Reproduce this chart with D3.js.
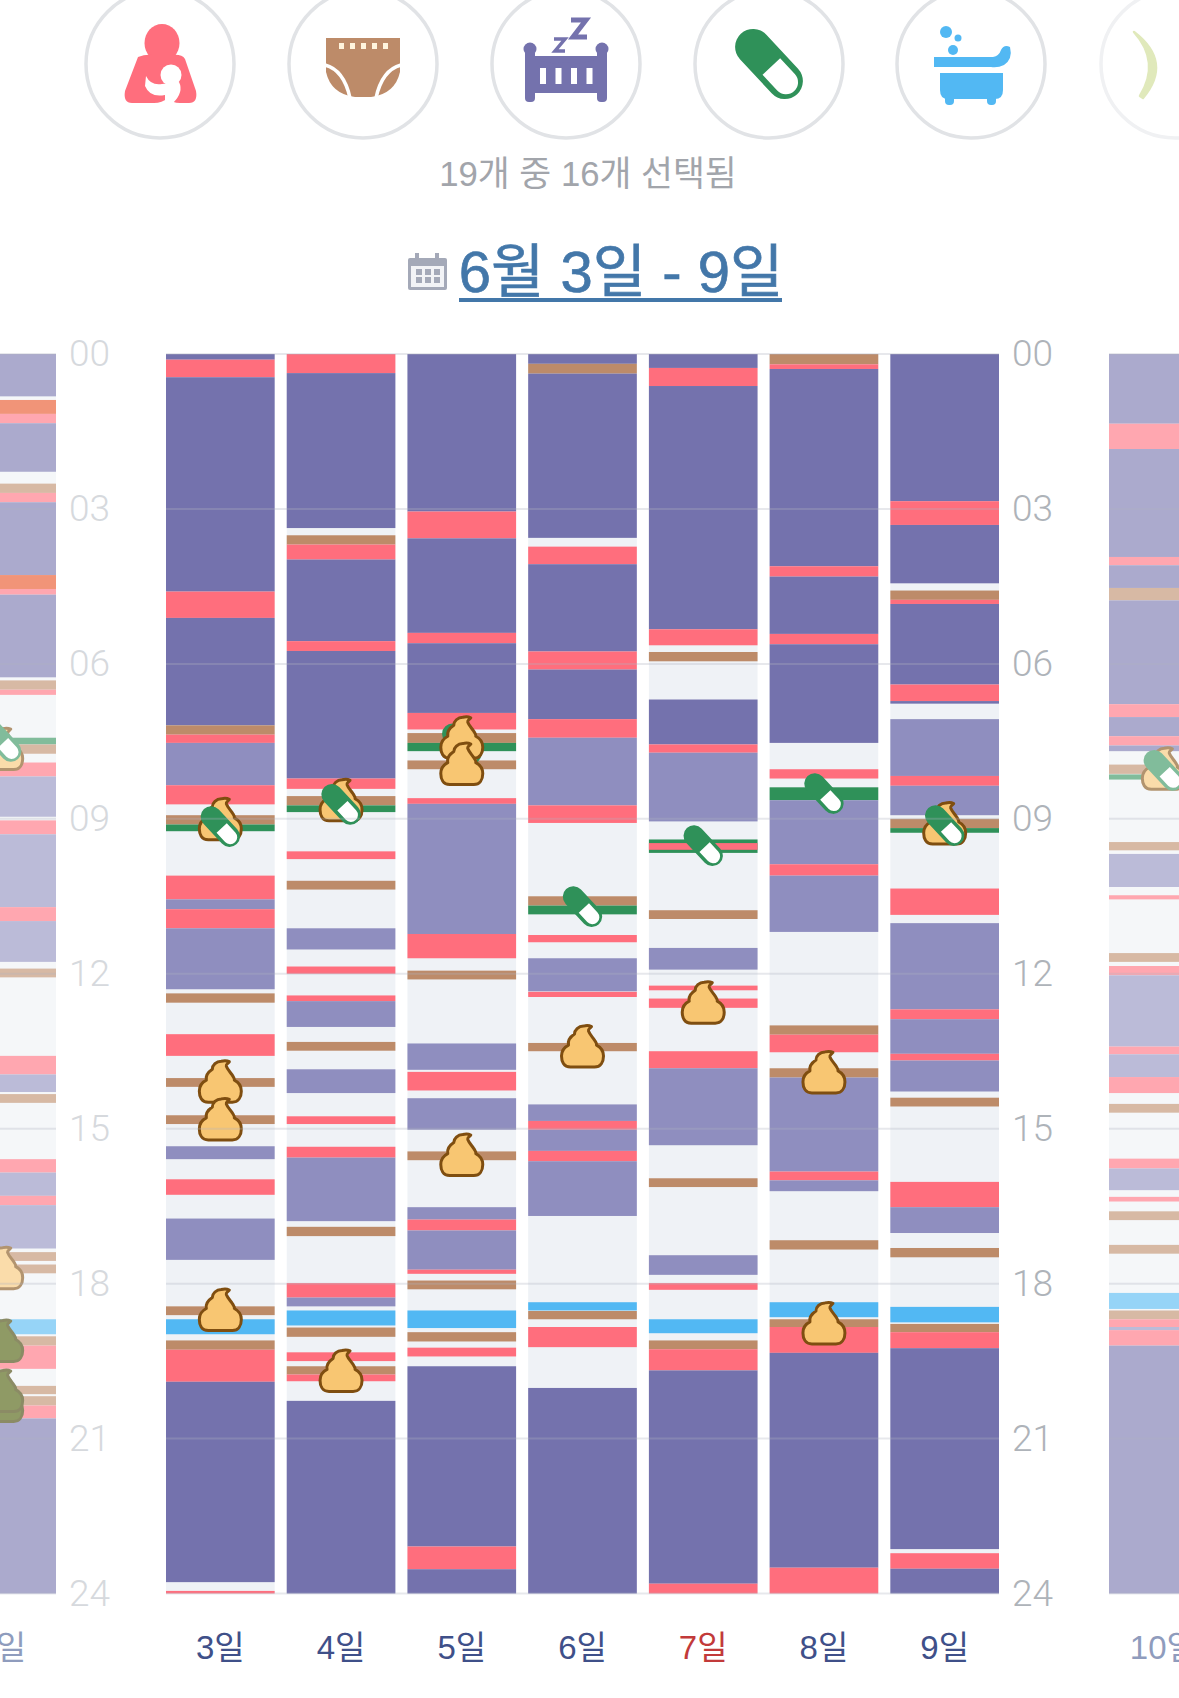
<!DOCTYPE html>
<html lang="ko">
<head>
<meta charset="utf-8">
<title>6월 3일 - 9일</title>
<script src="https://cdn.jsdelivr.net/npm/d3@7"></script>
<style>
  html, body { margin: 0; padding: 0; background: #fff; overflow: hidden; }
  svg { display: block; }
  text { font-family: "Liberation Sans", "Noto Sans CJK KR", sans-serif; }
</style>
</head>
<body>
<div id="chart"></div>
<script>
// Baby activity log: one column per day, hours running top to bottom.
// Each band is [kind, startHour, endHour]; each icon is [kind, hour] in paint order.
const hourTicks = [0, 3, 6, 9, 12, 15, 18, 21, 24];
const weekDays = ["3일", "4일", "5일", "6일", "7일", "8일", "9일"];
const prevDay = "2일";
const nextDay = "10일";
const holidayLabels = ["7일"];

const bandsPrev = [
  ["night",0,0.82],["mix",0.89,1.16],["feed",1.16,1.34],["night",1.34,2.28],["diaper",2.51,2.69],["feed",2.69,2.87],
  ["night",2.87,4.28],["mix",4.28,4.55],["feed",4.55,4.66],["night",4.66,6.26],["diaper",6.32,6.5],["feed",6.5,6.6],
  ["med",7.43,7.56],["diaper",7.56,7.74],["feed",7.91,8.18],["nap",8.18,8.96],["feed",9.03,9.3],["nap",9.3,10.71],
  ["feed",10.71,10.98],["nap",10.98,11.77],["diaper",11.9,12.07],["feed",13.59,13.95],["nap",13.95,14.29],["diaper",14.33,14.5],
  ["feed",15.59,15.85],["nap",15.85,16.3],["feed",16.3,16.48],["nap",16.48,17.32],["diaper",17.39,17.56],["diaper",17.63,17.8],
  ["bath",18.69,18.98],["diaper",19.02,19.2],["feed",19.2,19.65],["diaper",19.98,20.14],["diaper",20.18,20.36],["feed",20.36,20.61],
  ["night",20.61,24]
];
const bands3 = [
  ["night",0,0.11],["feed",0.11,0.45],["night",0.45,4.6],["feed",4.6,5.11],["night",5.11,7.19],["diaper",7.19,7.37],
  ["feed",7.37,7.53],["nap",7.53,8.35],["feed",8.35,8.72],["diaper",8.93,9.11],["med",9.11,9.24],["feed",10.1,10.56],
  ["nap",10.56,10.75],["feed",10.75,11.12],["nap",11.12,12.3],["diaper",12.38,12.56],["feed",13.17,13.59],["diaper",14.02,14.19],
  ["diaper",14.74,14.91],["nap",15.34,15.59],["feed",15.98,16.28],["nap",16.74,17.54],["diaper",18.44,18.61],["bath",18.69,18.98],
  ["diaper",19.1,19.28],["feed",19.28,19.9],["night",19.9,23.78],["feed",23.95,24]
];
const bands4 = [
  ["feed",0,0.37],["night",0.37,3.37],["diaper",3.51,3.69],["feed",3.69,3.98],["night",3.98,5.56],["feed",5.56,5.75],
  ["night",5.75,8.22],["feed",8.22,8.42],["diaper",8.56,8.74],["med",8.74,8.87],["feed",9.63,9.78],["diaper",10.2,10.37],
  ["nap",11.12,11.53],["feed",11.86,12],["feed",12.42,12.53],["nap",12.53,13.03],["diaper",13.32,13.49],["nap",13.85,14.31],
  ["feed",14.76,14.91],["feed",15.35,15.56],["nap",15.56,16.79],["diaper",16.9,17.08],["feed",17.99,18.27],["nap",18.27,18.44],
  ["bath",18.52,18.81],["diaper",18.85,19.03],["feed",19.33,19.5],["diaper",19.6,19.76],["feed",19.76,19.89],["night",20.27,24]
];
const bands5 = [
  ["night",0,3.05],["feed",3.05,3.57],["night",3.57,5.4],["feed",5.4,5.6],["night",5.6,6.95],["feed",6.95,7.27],
  ["diaper",7.34,7.53],["med",7.53,7.69],["diaper",7.87,8.04],["feed",8.6,8.71],["nap",8.71,11.23],["feed",11.23,11.7],
  ["diaper",11.94,12.11],["nap",13.35,13.86],["feed",13.9,14.26],["nap",14.41,15.02],["diaper",15.44,15.61],["nap",16.52,16.76],
  ["feed",16.76,16.97],["nap",16.97,17.73],["feed",17.73,17.81],["diaper",17.94,18.11],["bath",18.52,18.86],["diaper",18.94,19.12],
  ["feed",19.24,19.41],["night",19.6,23.09],["feed",23.09,23.53],["night",23.53,24]
];
const bands6 = [
  ["night",0,0.19],["diaper",0.19,0.38],["night",0.38,3.56],["feed",3.73,4.07],["night",4.07,5.76],["feed",5.76,6.11],
  ["night",6.11,7.07],["feed",7.07,7.43],["nap",7.43,8.74],["feed",8.74,9.08],["diaper",10.5,10.68],["med",10.68,10.85],
  ["feed",11.25,11.39],["nap",11.7,12.34],["feed",12.35,12.45],["diaper",13.34,13.5],["nap",14.53,14.85],["feed",14.85,15.02],
  ["nap",15.02,15.43],["feed",15.43,15.63],["nap",15.63,16.69],["bath",18.36,18.52],["diaper",18.53,18.69],["feed",18.84,19.23],
  ["night",20.02,24]
];
const bands7 = [
  ["night",0,0.27],["feed",0.27,0.62],["night",0.62,5.33],["feed",5.33,5.64],["diaper",5.77,5.95],["night",6.69,7.56],
  ["feed",7.56,7.72],["nap",7.72,9.05],["med",9.4,9.66],["feed",9.47,9.6],["diaper",10.77,10.94],["nap",11.5,11.92],
  ["feed",12.23,12.32],["feed",12.48,12.66],["feed",13.5,13.83],["nap",13.83,15.32],["diaper",15.96,16.13],["nap",17.45,17.83],
  ["feed",17.99,18.12],["bath",18.69,18.96],["diaper",19.1,19.27],["feed",19.27,19.68],["night",19.68,23.81],["feed",23.81,24]
];
const bands8 = [
  ["diaper",0,0.2],["feed",0.2,0.29],["night",0.29,4.11],["feed",4.11,4.31],["night",4.31,5.42],["feed",5.42,5.62],
  ["night",5.62,7.53],["feed",8.04,8.22],["med",8.39,8.64],["nap",8.64,9.88],["feed",9.88,10.1],["nap",10.1,11.19],
  ["diaper",13,13.18],["feed",13.18,13.52],["diaper",13.83,14.01],["nap",14.01,15.83],["feed",15.83,16],["nap",16,16.21],
  ["diaper",17.16,17.34],["bath",18.36,18.65],["diaper",18.69,18.84],["feed",18.84,19.34],["night",19.34,23.5],["feed",23.5,24]
];
const bands9 = [
  ["night",0,2.85],["feed",2.85,3.31],["night",3.31,4.44],["diaper",4.58,4.76],["feed",4.76,4.84],["night",4.84,6.4],
  ["feed",6.4,6.72],["night",6.72,6.77],["nap",7.07,8.17],["feed",8.17,8.36],["nap",8.36,8.93],["diaper",9,9.18],
  ["med",9.18,9.27],["feed",10.35,10.86],["nap",11.02,12.69],["feed",12.69,12.88],["nap",12.88,13.55],["feed",13.55,13.68],
  ["nap",13.68,14.28],["diaper",14.4,14.57],["feed",16.03,16.52],["nap",16.52,17.02],["diaper",17.31,17.49],["bath",18.45,18.75],
  ["diaper",18.78,18.94],["feed",18.94,19.25],["night",19.25,23.14],["feed",23.22,23.52],["night",23.52,24]
];
const bandsNext = [
  ["night",0,1.35],["feed",1.35,1.84],["night",1.84,3.93],["feed",3.93,4.09],["night",4.09,4.53],["diaper",4.53,4.77],
  ["night",4.77,6.78],["feed",6.78,7.03],["night",7.03,7.4],["feed",7.4,7.58],["night",7.58,7.69],["diaper",7.95,8.13],
  ["med",8.14,8.24],["diaper",9.45,9.61],["nap",9.68,10.32],["feed",10.48,10.56],["diaper",11.6,11.77],["feed",11.85,12.03],
  ["nap",12.03,13.41],["feed",13.41,13.56],["nap",13.56,14],["feed",14,14.31],["diaper",14.52,14.69],["feed",15.58,15.77],
  ["nap",15.77,16.19],["feed",16.32,16.41],["diaper",16.6,16.77],["diaper",17.25,17.42],["bath",18.18,18.49],["diaper",18.52,18.69],
  ["feed",18.69,18.84],["nap",18.84,18.9],["feed",18.9,19.2],["night",19.2,24]
];

const iconsPrev = [["poop",7.66],["pill",7.5],["poop",17.71],["stool",19.12],["stool",20.28],["stool",20.09]];
const icons3 = [["poop",9.02],["pill",9.15],["poop",14.1],["poop",14.83],["poop",18.52]];
const icons4 = [["poop",8.65],["pill",8.72],["poop",19.7]];
const icons5 = [["pill",7.55],["poop",7.44],["poop",7.95],["poop",15.52]];
const icons6 = [["pill",10.7],["poop",13.42]];
const icons7 = [["pill",9.52],["poop",12.57]];
const icons8 = [["pill",8.51],["poop",13.92],["poop",18.78]];
const icons9 = [["poop",9.1],["pill",9.13]];
const iconsNext = [["poop",8.04],["pill",8.06]];

const mainBands = [bands3, bands4, bands5, bands6, bands7, bands8, bands9];
const mainIcons = [icons3, icons4, icons5, icons6, icons7, icons8, icons9];

const color = {
  night: "#7472ad", nap: "#8f8ebf", feed: "#ff6e7d", diaper: "#bd8b69",
  bath: "#52b8f3", med: "#2f9159", mix: "#e94e20",
  rest: "#eff2f6", poop: "#f8c672", poopEdge: "#7f4e10",
  stool: "#455800", stoolEdge: "#3f3f00"
};

const width = 1179, height = 1698;
const svg = d3.select("#chart").append("svg").attr("width", width).attr("height", height);

const y = d3.scaleLinear().domain([0, 24]).range([354, 1593.5]);
const x = d3.scaleBand().domain(weekDays).range([166, 999]).paddingInner(0.1);
const bw = x.bandwidth();
const sideGap = 110;

// All seven days plus the faded neighbouring days that peek in at the edges.
const columns = [
  { day: prevDay, left: x(weekDays[0]) - sideGap - bw, bands: bandsPrev, icons: iconsPrev, faded: true },
  ...weekDays.map((d, i) => ({ day: d, left: x(d), bands: mainBands[i], icons: mainIcons[i], faded: false })),
  { day: nextDay, left: x(weekDays[6]) + bw + sideGap, bands: bandsNext, icons: iconsNext, faded: true }
];

const col = svg.selectAll("g.day").data(columns).join("g")
  .attr("class", "day")
  .attr("transform", d => `translate(${d.left},0)`)
  .attr("opacity", d => d.faded ? 0.6 : 1);

col.append("rect")
  .attr("y", y(0)).attr("width", bw).attr("height", y(24) - y(0))
  .attr("fill", color.rest);

col.selectAll("rect.band").data(d => d.bands).join("rect")
  .attr("class", "band")
  .attr("y", d => y(d[1]))
  .attr("width", bw)
  .attr("height", d => y(d[2]) - y(d[1]))
  .attr("fill", d => color[d[0]]);

// Hour grid: translucent rules laid over the columns, broken beside the hour labels.
const gridRuns = [
  [0, columns[0].left + bw],
  [x(weekDays[0]), x(weekDays[6]) + bw],
  [columns[8].left, width]
];
svg.append("g").selectAll("g").data(hourTicks).join("g").each(function (h) {
  d3.select(this).selectAll("line").data(gridRuns).join("line")
    .attr("x1", r => r[0]).attr("x2", r => r[1])
    .attr("y1", y(h)).attr("y2", y(h))
    .attr("stroke", "#aeb2c0").attr("stroke-opacity", 0.3).attr("stroke-width", 2);
});

// Event symbols.
const POOP = "M-12 20C-19 20-21 14-21 9C-21 4-18 0-14-2C-15-7-11-11-8-13C-8-17-4-21 1-21C3-21.5 6-22 9-20.5C7-18 5.5-18 6-16C7-13 10-10 12-7C13-5 14.5-4 14-2C18 0 21 4 21 9C21 15 18 20 12 20Z";

function drawPill(sel, scale) {
  const g = sel.append("g").attr("transform", `rotate(47) scale(${scale})`);
  g.append("rect").attr("x", -24).attr("y", -10.5).attr("width", 48).attr("height", 21).attr("rx", 10.5).attr("fill", color.med);
  g.append("path").attr("d", "M2 -7H14.5A7 7 0 0 1 14.5 7H2Z").attr("fill", "#fff");
}

col.each(function (d) {
  const g = d3.select(this);
  d.icons.forEach(([kind, hour]) => {
    const icon = g.append("g").attr("transform", `translate(${bw / 2},${y(hour)})`);
    if (kind === "pill") {
      drawPill(icon, 1);
    } else {
      icon.append("path").attr("d", POOP)
        .attr("fill", kind === "stool" ? color.stool : color.poop)
        .attr("stroke", kind === "stool" ? color.stoolEdge : color.poopEdge)
        .attr("stroke-width", 3).attr("stroke-linejoin", "round");
    }
  });
});

// Hour labels on both sides of the week.
const fmtHour = h => String(h).padStart(2, "0");
const axisL = svg.append("g").attr("transform", "translate(110,0)")
  .call(d3.axisLeft(y).tickValues(hourTicks).tickFormat(fmtHour).tickSize(0).tickPadding(0));
const axisR = svg.append("g").attr("transform", "translate(1012,0)")
  .call(d3.axisRight(y).tickValues(hourTicks).tickFormat(fmtHour).tickSize(0).tickPadding(0));
axisL.select(".domain").remove();
axisR.select(".domain").remove();
[[axisL, "#d6d9dd"], [axisR, "#aeb3b9"]].forEach(([axis, fill]) => {
  axis.selectAll("text").attr("fill", fill)
    .style("font-family", "Roboto").style("font-weight", 300).style("font-size", "37px");
});

// Day labels along the bottom.
svg.append("g").selectAll("text").data(columns).join("text")
  .attr("x", d => d.left + bw / 2)
  .attr("y", 1659)
  .attr("text-anchor", "middle")
  .attr("font-size", 33)
  .attr("fill", d => d.faded ? "#8f9cbd" : holidayLabels.includes(d.day) ? "#c23a3a" : "#3f5089")
  .text(d => d.day);

// Category buttons above the chart.
const filters = [
  { cx: 160, draw: g => {
      g.attr("fill", color.feed);
      g.append("ellipse").attr("cx", 2).attr("cy", -21).attr("rx", 17.5).attr("ry", 19);
      g.append("path").attr("d", "M-22-7Q-14-10-8-9L12-9Q22-10 25-5L36 27Q38 39 29 39L20 39Q12 39 8 34Q2 39-6 39L-28 39Q-37 39-35 27Z");
      g.append("circle").attr("cx", 11).attr("cy", 11).attr("r", 10.5).attr("fill", "#fff");
      g.append("path").attr("fill", "#fff").attr("d", "M-14 12Q-9 22 2 20L19 18Q24 28 13 39L5 39L5 31Q-10 34-15 22Z");
    } },
  { cx: 363, draw: g => {
      g.attr("fill", color.diaper);
      g.append("path").attr("d", "M-37-26H37V8Q32 30 8 33H-8Q-32 30-37 8Z");
      g.selectAll("rect").data(d3.range(5)).join("rect")
        .attr("x", i => -24 + i * 11).attr("y", -21).attr("width", 5).attr("height", 6).attr("fill", "#fff4dd");
      ["M-38 1Q-19 6-13 34", "M38 1Q19 6 13 34"].forEach(p =>
        g.append("path").attr("d", p).attr("fill", "none").attr("stroke", "#fff").attr("stroke-width", 3.5));
    } },
  { cx: 566, draw: g => {
      g.attr("fill", color.night);
      g.append("rect").attr("x", -36).attr("y", -8).attr("width", 72).attr("height", 37).attr("rx", 2);
      g.append("path").attr("d", "M-36-8Q-20 2 0-2Q20 2 36-8V0H-36Z");
      [-36, 36].forEach(cx => {
        g.append("circle").attr("cx", cx).attr("cy", -15).attr("r", 6.5);
        g.append("rect").attr("x", cx - 5).attr("y", -15).attr("width", 10).attr("height", 53).attr("rx", 4);
      });
      g.selectAll("rect.bar").data(d3.range(4)).join("rect").attr("class", "bar")
        .attr("x", i => -26 + i * 15.5).attr("y", 4).attr("width", 6).attr("height", 16).attr("fill", "#fff");
      ["M5-44H20L7-27H21", "M-12-25H-1L-11-13H-1"].forEach((p, i) =>
        g.append("path").attr("d", p).attr("fill", "none").attr("stroke", color.night).attr("stroke-width", i ? 3.5 : 5));
    } },
  { cx: 769, draw: g => { drawPill(g, 1.72); } },
  { cx: 971, draw: g => {
      g.attr("fill", color.bath);
      g.append("circle").attr("cx", -25).attr("cy", -32).attr("r", 6);
      g.append("circle").attr("cx", -13).attr("cy", -26).attr("r", 3.5);
      g.append("circle").attr("cx", -18).attr("cy", -14).attr("r", 5);
      g.append("path").attr("d", "M-37-7H22Q28-8 30-14Q33-20 39-17Q42-5 33 1Q27 4 20 3H-37Z");
      g.append("path").attr("d", "M-31 9H32V26Q32 35 24 35H-23Q-31 35-31 26Z");
      g.append("rect").attr("x", -26).attr("y", 30).attr("width", 9).attr("height", 11).attr("rx", 4);
      g.append("rect").attr("x", 16).attr("y", 30).attr("width", 9).attr("height", 11).attr("rx", 4);
    } },
  { cx: 1175, faded: true, draw: g => {
      g.append("path").attr("d", "M-41-32Q-2-2-32 34L-35 32Q-14-2-41-32Z")
        .attr("fill", "#e0e9bb").attr("stroke", "#e0e9bb").attr("stroke-width", 2.5).attr("stroke-linejoin", "round");
    } }
];
const filterG = svg.append("g").selectAll("g").data(filters).join("g")
  .attr("transform", d => `translate(${d.cx},64)`);
filterG.append("circle").attr("r", 74)
  .attr("fill", "#fff")
  .attr("stroke", d => d.faded ? "#f0f1f3" : "#e1e3e6").attr("stroke-width", 3.5);
filterG.each(function (d) { d.draw(d3.select(this).append("g")); });

svg.append("text").attr("x", 588).attr("y", 186).attr("text-anchor", "middle")
  .attr("font-size", 34.7).attr("fill", "#a2a5ab").text("19개 중 16개 선택됨");

// Date range heading with its calendar glyph.
const cal = svg.append("g").attr("transform", "translate(408,253)");
cal.append("rect").attr("y", 5).attr("width", 39).attr("height", 32).attr("rx", 2).attr("fill", "#a4a9b8");
cal.append("rect").attr("x", 3).attr("y", 13).attr("width", 33).attr("height", 21).attr("fill", "#f2f3f6");
[9, 29].forEach(cx => cal.append("rect").attr("x", cx - 2).attr("y", 0).attr("width", 4).attr("height", 9).attr("fill", "#a4a9b8"));
d3.range(6).forEach(i => cal.append("rect")
  .attr("x", 8 + (i % 3) * 9).attr("y", 16 + Math.floor(i / 3) * 8).attr("width", 6).attr("height", 6).attr("fill", "#a4a9b8"));

svg.append("text").attr("x", 621).attr("y", 292).attr("text-anchor", "middle")
  .attr("font-size", 58).attr("fill", "#4377a9")
  .attr("stroke", "#4377a9").attr("stroke-width", 0.7).text("6월 3일 - 9일");
svg.append("rect").attr("x", 459).attr("y", 298).attr("width", 323).attr("height", 4).attr("fill", "#4377a9");
</script>
</body>
</html>
